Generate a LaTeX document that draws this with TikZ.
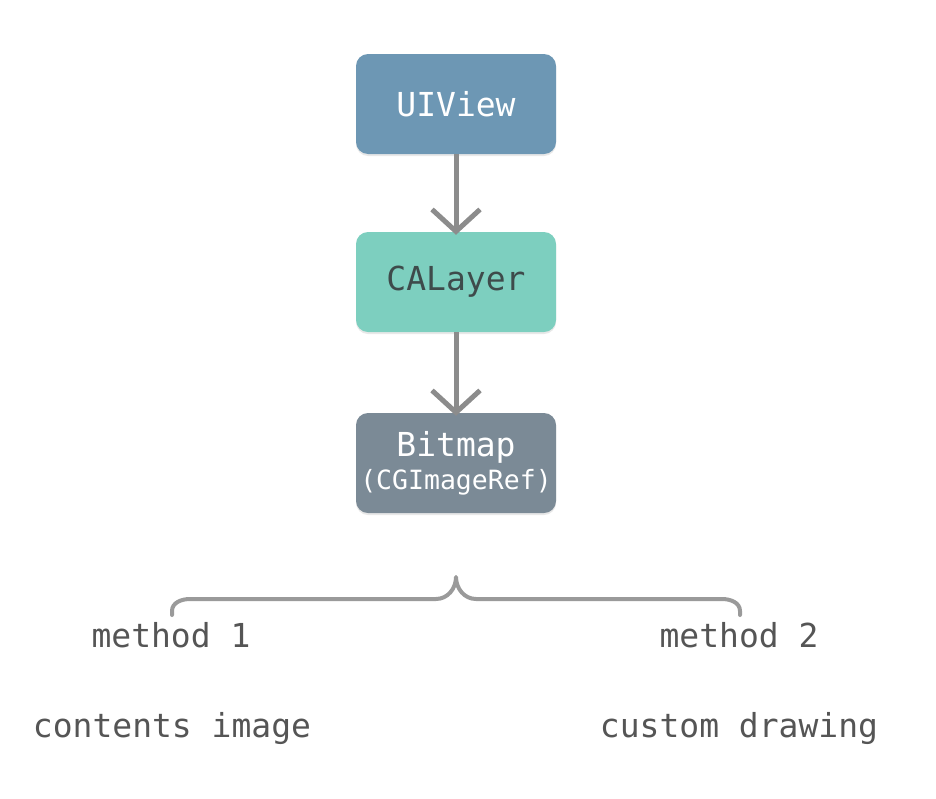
\documentclass[tikz,border=0pt]{standalone}
\usepackage{fontspec}
\setmonofont{DejaVu Sans Mono}
\usetikzlibrary{arrows.meta,shadows,positioning}
\definecolor{uiblue}{HTML}{6D97B4}
\definecolor{cateal}{HTML}{7DCFBF}
\definecolor{bmgray}{HTML}{7B8A96}
\definecolor{arrowgray}{HTML}{8C8C8C}
\definecolor{bracegray}{HTML}{9A9A9A}
\definecolor{txtgray}{HTML}{555555}
\definecolor{darktxt}{HTML}{3E4B4B}
\begin{document}
\begin{tikzpicture}[x=1pt,y=-1pt,
  boxnode/.style={rectangle, rounded corners=12pt, minimum width=200pt, minimum height=100pt,
    inner sep=0pt, align=center, font=\ttfamily\fontsize{33}{35}\selectfont,
    drop shadow={opacity=0.18, shadow xshift=0pt, shadow yshift=-2pt}},
  flowarrow/.style={draw=arrowgray, line width=5pt,
    -{Straight Barb[length=22pt,width=48pt,line width=5pt]}},
  labeltext/.style={font=\ttfamily\fontsize{33}{35}\selectfont, text=txtgray, inner sep=0pt, anchor=base}
]
\useasboundingbox (0,0) rectangle (936,798);
\node[boxnode, fill=uiblue, text=white] (uiview) at (456,104) {UIView};
\node[boxnode, fill=cateal, text=darktxt] (calayer) at (456,282) {CALayer};
\node[boxnode, fill=bmgray, text=white] (bitmap) at (456,463)
  {{\fontsize{33}{36}\selectfont Bitmap}\\[-2pt]{\fontsize{26.5}{30}\selectfont (CGImageRef)}};
\draw[flowarrow] (uiview.south) -- ([yshift=-3pt]calayer.north);
\draw[flowarrow] (calayer.south) -- ([yshift=-3pt]bitmap.north);
\coordinate (bl) at (172,615);
\coordinate (br) at (740,615);
\coordinate (btip) at (456,577);
\draw[bracegray, line width=4pt, line cap=round, line join=round]
  (bl) -- (172,611) to[out=90,in=180] (190,599) -- (436,599) to[out=0,in=-90] (btip)
  to[out=-90,in=180] (476,599) -- (722,599) to[out=0,in=90] (740,611) -- (br);
\node[labeltext] (m1) at (171,647) {method 1};
\node[labeltext] (m2) at (739,647) {method 2};
\node[labeltext] (c1) at (172,737) {contents image};
\node[labeltext] (c2) at (739,737) {custom drawing};
\end{tikzpicture}
\end{document}
